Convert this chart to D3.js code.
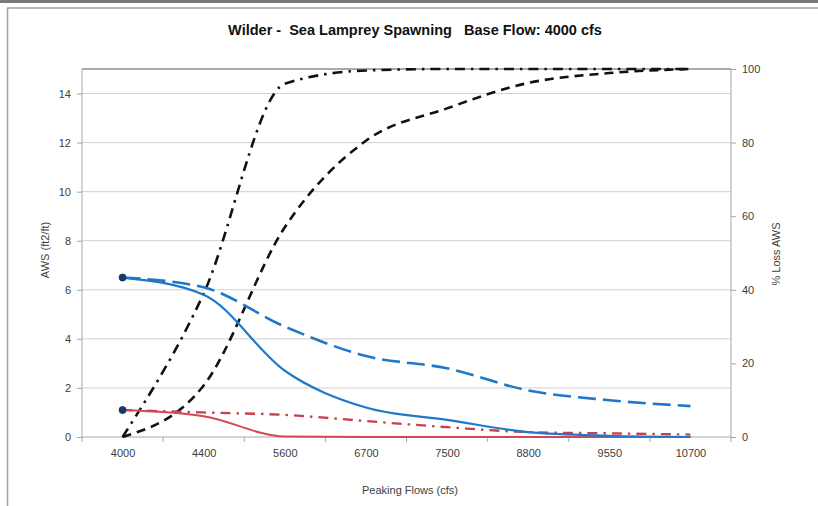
<!DOCTYPE html>
<html>
<head>
<meta charset="utf-8">
<script src="https://cdn.jsdelivr.net/npm/d3@7"></script>
<style>
  html, body { margin: 0; padding: 0; background: #fff; }
  svg { display: block; font-family: "Liberation Sans", Arial, sans-serif; }
</style>
</head>
<body>
<svg id="chart" width="818" height="506"></svg>
<script>
const title = "Wilder -  Sea Lamprey Spawning   Base Flow: 4000 cfs";
const categories = ["4000", "4400", "5600", "6700", "7500", "8800", "9550", "10700"];
const awsTotal      = [6.5, 5.8, 2.7, 1.2, 0.7, 0.2, 0.05, 0.0];
const awsTotalAlt   = [6.5, 6.1, 4.5, 3.3, 2.8, 1.9, 1.5, 1.26];
const awsRed        = [1.1, 0.85, 0.02, 0.0, 0.0, 0.0, 0.0, 0.0];
const awsRedAlt     = [1.1, 1.0, 0.9, 0.65, 0.4, 0.2, 0.15, 0.1];
const lossDashDot   = [0, 39, 96, 99.6, 100, 100, 100, 100];
const lossDashed    = [0, 14, 57, 80.5, 89.3, 96.2, 98.9, 100];
const leftTicks  = [0, 2, 4, 6, 8, 10, 12, 14];
const rightTicks = [0, 20, 40, 60, 80, 100];

const svg = d3.select("#chart");
const W = 818, H = 506;
const m = { left: 82, right: 731, top: 69, bottom: 437 };

// frame
svg.append("rect").attr("x", 0).attr("y", 0).attr("width", W).attr("height", 3).attr("fill", "#7a7a7a");
svg.append("line").attr("x1", 7).attr("x2", W).attr("y1", 8).attr("y2", 8).attr("stroke", "#a0a0a0").attr("stroke-width", 1.5);
svg.append("line").attr("x1", 7.5).attr("x2", 7.5).attr("y1", 8).attr("y2", H).attr("stroke", "#a0a0a0").attr("stroke-width", 1.5);

const x = d3.scalePoint().domain(categories).range([m.left, m.right]).padding(0.5);
const band = (m.right - m.left) / categories.length;
const yL = d3.scaleLinear().domain([0, 15]).range([m.bottom, m.top]);
const yR = d3.scaleLinear().domain([0, 100]).range([m.bottom, m.top]);

// gridlines
svg.append("g").selectAll("line").data(leftTicks.filter(d => d > 0)).join("line")
  .attr("x1", m.left).attr("x2", m.right)
  .attr("y1", d => yL(d)).attr("y2", d => yL(d))
  .attr("stroke", "#d0d0d0").attr("stroke-width", 1);

// top border
svg.append("line").attr("x1", m.left).attr("x2", m.right).attr("y1", m.top).attr("y2", m.top)
  .attr("stroke", "#8c8c8c").attr("stroke-width", 1.5);

// left axis
const gL = svg.append("g").attr("transform", `translate(${m.left},0)`)
  .call(d3.axisLeft(yL).tickValues(leftTicks).tickSize(5).tickPadding(6).tickFormat(d3.format("d")));
gL.select(".domain").attr("stroke", "#a6a6a6").attr("d", `M-0,${m.bottom}V${m.top}`);
gL.selectAll(".tick line").attr("stroke", "#a6a6a6");
gL.selectAll("text").attr("fill", "#404040").style("font-size", "11px");

// right axis
const gR = svg.append("g").attr("transform", `translate(${m.right},0)`)
  .call(d3.axisRight(yR).tickValues(rightTicks).tickSize(5).tickPadding(6));
gR.select(".domain").attr("stroke", "#a6a6a6").attr("d", `M0,${m.bottom}V${m.top}`);
gR.selectAll(".tick line").attr("stroke", "#a6a6a6");
gR.selectAll("text").attr("fill", "#404040").style("font-size", "11px");

// bottom axis
const gB = svg.append("g").attr("transform", `translate(0,${m.bottom})`)
  .call(d3.axisBottom(x).tickSize(0).tickPadding(12));
gB.select(".domain").attr("stroke", "#a6a6a6").attr("d", `M${m.left},0H${m.right}`);
gB.selectAll("text").attr("fill", "#404040").style("font-size", "11px");
// category boundary ticks
svg.append("g").selectAll("line").data(categories).join("line")
  .attr("x1", d => x(d) - band / 2).attr("x2", d => x(d) - band / 2)
  .attr("y1", m.bottom).attr("y2", m.bottom + 5)
  .attr("stroke", "#a6a6a6");
svg.append("line").attr("x1", m.right).attr("x2", m.right).attr("y1", m.bottom).attr("y2", m.bottom + 5).attr("stroke", "#a6a6a6");

// series
const curve = d3.curveMonotoneX;
const lineL = d3.line().x((d, i) => x(categories[i])).y(d => yL(d)).curve(curve);
const lineR = d3.line().x((d, i) => x(categories[i])).y(d => yR(d)).curve(curve);

const series = [
  { data: lossDashed, line: lineR, color: "#111", dash: "9,6", w: 2.6 },
  { data: lossDashDot, line: lineR, color: "#111", dash: "10,6,2.5,6", w: 2.6 },
  { data: awsRedAlt, line: lineL, color: "#c8404c", dash: "10,6,2.5,6", w: 2.3 },
  { data: awsRed, line: lineL, color: "#d04a55", dash: null, w: 2 },
  { data: awsTotalAlt, line: lineL, color: "#1f78c8", dash: "18,7", w: 2.6 },
  { data: awsTotal, line: lineL, color: "#1f78c8", dash: null, w: 2.2 },
];
series.forEach(s => {
  svg.append("path").datum(s.data).attr("d", s.line)
    .attr("fill", "none").attr("stroke", s.color).attr("stroke-width", s.w)
    .attr("stroke-dasharray", s.dash).attr("stroke-linecap", "butt");
});

// start markers
svg.append("g").selectAll("circle").data([awsTotal[0], awsRed[0]]).join("circle")
  .attr("cx", x(categories[0])).attr("cy", d => yL(d)).attr("r", 3.5)
  .attr("fill", "#1b3a6b").attr("stroke", "#1b3a6b");

// titles
svg.append("text").attr("x", 415).attr("y", 35).attr("text-anchor", "middle")
  .style("white-space", "pre").attr("xml:space", "preserve")
  .style("font-size", "14.5px").style("font-weight", "bold").attr("fill", "#111").text(title);
svg.append("text").attr("transform", `translate(49,250) rotate(-90)`)
  .attr("text-anchor", "middle").style("font-size", "11px").attr("fill", "#404040").text("AWS (ft2/ft)");
svg.append("text").attr("transform", `translate(780,254) rotate(-90)`)
  .attr("text-anchor", "middle").style("font-size", "11px").attr("fill", "#404040").text("% Loss AWS");
svg.append("text").attr("x", 410).attr("y", 494).attr("text-anchor", "middle")
  .style("font-size", "11px").attr("fill", "#404040").text("Peaking Flows (cfs)");
</script>
</body>
</html>
